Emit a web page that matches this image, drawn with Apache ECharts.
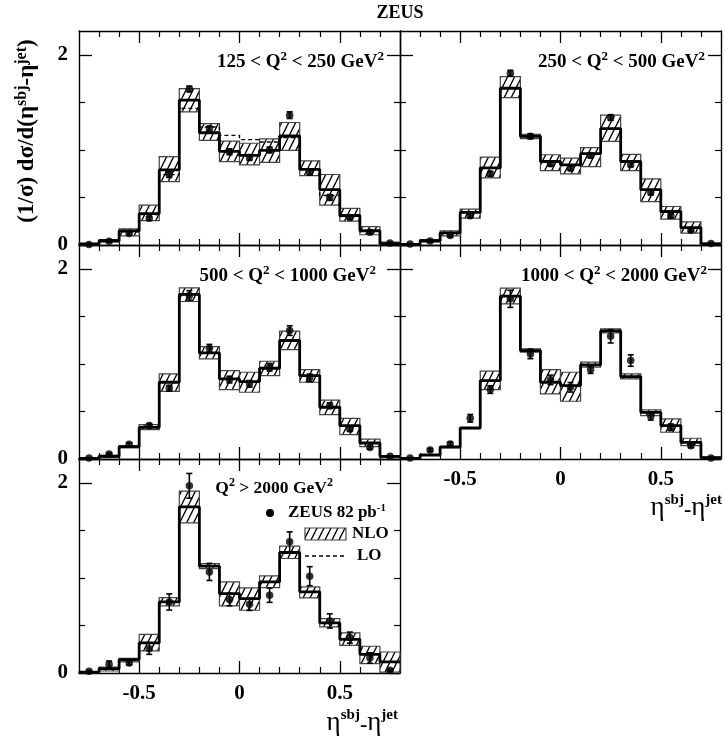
<!DOCTYPE html>
<html><head><meta charset="utf-8">
<script src="https://cdn.jsdelivr.net/npm/echarts@6/dist/echarts.min.js"></script>
<style>html,body{margin:0;padding:0;background:#fff}#c{width:725px;height:739px}</style>
</head><body><div id="c"></div>
<script>
// ---------- data ----------
const binEdges = [-0.8,-0.7,-0.6,-0.5,-0.4,-0.3,-0.2,-0.1,0,0.1,0.2,0.3,0.4,0.5,0.6,0.7,0.8];
const xMajorTicks = [-0.5, 0, 0.5];
const xMinorTicks = [-0.7,-0.6,-0.4,-0.3,-0.2,-0.1,0.1,0.2,0.3,0.4,0.6,0.7];
const yMajorTicks = [0, 2];
const yMinorTicks = [0.5, 1, 1.5];

const panelLabels = [
  '125 < Q{s|2} < 250 GeV{s|2}',
  '250 < Q{s|2} < 500 GeV{s|2}',
  '500 < Q{s|2} < 1000 GeV{s|2}',
  '1000 < Q{s|2} < 2000 GeV{s|2}',
  'Q{s|2} > 2000 GeV{s|2}'
];

// panel 1: 125 < Q2 < 250
const data1  = [0.005,0.04,0.12,0.28,0.74,1.64,1.22,0.98,0.92,1.0,1.365,0.765,0.50,0.29,0.135,0.02];
const err1   = [0.005,0.01,0.015,0.02,0.03,0.03,0.03,0.03,0.03,0.03,0.035,0.03,0.03,0.02,0.015,0.008];
const nloHi1 = [0.02,0.056,0.17,0.42,0.93,1.645,1.277,1.093,1.07,1.115,1.288,0.885,0.741,0.386,0.194,0.03];
const nloLo1 = [0.0,0.03,0.095,0.257,0.667,1.40,1.10,0.877,0.843,0.868,0.995,0.73,0.42,0.25,0.108,0.005];
const nlo1   = [0.01,0.045,0.148,0.33,0.79,1.524,1.18,0.984,0.942,0.995,1.146,0.795,0.582,0.31,0.15,0.014];
const lo1    = [0.01,0.045,0.14,0.32,0.74,1.436,1.24,1.153,1.108,1.083,1.129,0.80,0.52,0.30,0.145,0.014];

// panel 2: 250 < Q2 < 500
const data2  = [0.01,0.042,0.10,0.307,0.748,1.806,1.143,0.854,0.808,0.942,1.34,0.847,0.553,0.307,0.155,0.015];
const err2   = [0.005,0.01,0.015,0.02,0.025,0.03,0.025,0.025,0.025,0.025,0.03,0.025,0.025,0.02,0.015,0.005];
const nloHi2 = [0.01,0.056,0.148,0.377,0.924,1.77,1.164,0.949,0.913,1.023,1.365,0.952,0.695,0.405,0.243,0.02];
const nloLo2 = [0.0,0.03,0.095,0.282,0.706,1.55,1.118,0.783,0.748,0.825,1.09,0.783,0.455,0.272,0.124,0.005];
const nlo2   = [0.005,0.045,0.127,0.342,0.81,1.648,1.143,0.878,0.843,0.96,1.224,0.878,0.582,0.352,0.183,0.012];
const lo2    = [0.005,0.045,0.127,0.342,0.81,1.648,1.143,0.878,0.843,0.96,1.224,0.878,0.582,0.352,0.183,0.012];

// panel 3: 500 < Q2 < 1000
const data3  = [0.01,0.053,0.154,0.351,0.744,1.72,1.165,0.835,0.79,0.965,1.35,0.853,0.561,0.316,0.12,0.028];
const err3   = [0.005,0.01,0.015,0.02,0.03,0.05,0.04,0.035,0.035,0.04,0.05,0.04,0.03,0.025,0.015,0.008];
const nloHi3 = [0.01,0.042,0.14,0.361,0.895,1.80,1.182,0.93,0.912,1.028,1.344,0.94,0.618,0.428,0.21,0.035];
const nloLo3 = [0.0,0.02,0.116,0.309,0.712,1.656,1.053,0.73,0.702,0.877,1.151,0.807,0.467,0.256,0.13,0.02];
const nlo3   = [0.005,0.028,0.13,0.333,0.807,1.73,1.116,0.842,0.814,0.954,1.246,0.877,0.544,0.351,0.168,0.028];
const lo3    = [0.005,0.028,0.13,0.333,0.807,1.73,1.116,0.842,0.814,0.954,1.246,0.877,0.544,0.351,0.168,0.028];

// panel 4: 1000 < Q2 < 2000
const data4  = [0.01,0.095,0.158,0.428,0.73,1.684,1.105,0.832,0.754,0.94,1.29,1.035,0.449,0.333,0.14,0.01];
const err4   = [0.005,0.015,0.02,0.04,0.04,0.09,0.05,0.05,0.05,0.04,0.07,0.06,0.04,0.035,0.02,0.005];
const nloHi4 = [0.01,0.045,0.13,0.33,0.923,1.797,1.158,0.94,0.912,1.018,1.368,0.895,0.516,0.421,0.218,0.02];
const nloLo4 = [0.0,0.038,0.12,0.32,0.73,1.63,1.123,0.684,0.607,0.965,1.326,0.842,0.456,0.281,0.14,0.008];
const nlo4   = [0.005,0.042,0.126,0.326,0.825,1.712,1.14,0.807,0.772,0.99,1.347,0.867,0.491,0.351,0.175,0.014];
const lo4    = [0.005,0.042,0.126,0.326,0.825,1.712,1.14,0.807,0.772,0.99,1.347,0.867,0.491,0.351,0.175,0.014];

// panel 5: Q2 > 2000
const data5  = [0.018,0.091,0.105,0.256,0.747,1.968,1.063,0.772,0.723,0.818,1.379,1.018,0.547,0.372,0.158,0.028];
const err5   = [0.008,0.035,0.02,0.06,0.085,0.13,0.09,0.065,0.065,0.075,0.105,0.1,0.075,0.058,0.055,0.01];
const nloHi5 = [0.015,0.063,0.154,0.407,0.793,1.912,1.151,0.958,0.895,1.021,1.333,0.905,0.572,0.421,0.281,0.221];
const nloLo5 = [0.0,0.021,0.116,0.232,0.705,1.579,1.098,0.705,0.66,0.898,1.204,0.789,0.484,0.291,0.098,0.01];
const nlo5   = [0.01,0.046,0.14,0.316,0.747,1.747,1.123,0.835,0.782,0.958,1.267,0.853,0.526,0.354,0.196,0.116];
const lo5    = [0.01,0.046,0.14,0.316,0.747,1.747,1.123,0.835,0.782,0.958,1.267,0.853,0.526,0.354,0.196,0.116];

const panels = [
  {data:data1, err:err1, hi:nloHi1, lo:nloLo1, nlo:nlo1, lo_:lo1},
  {data:data2, err:err2, hi:nloHi2, lo:nloLo2, nlo:nlo2, lo_:lo2},
  {data:data3, err:err3, hi:nloHi3, lo:nloLo3, nlo:nlo3, lo_:lo3},
  {data:data4, err:err4, hi:nloHi4, lo:nloLo4, nlo:nlo4, lo_:lo4},
  {data:data5, err:err5, hi:nloHi5, lo:nloLo5, nlo:nlo5, lo_:lo5}
];

// ---------- layout ----------
const FONT = "'Liberation Serif','DejaVu Serif',serif";
const grids = [
  {left:79,  top:31,  width:321, height:214},
  {left:400, top:31,  width:321, height:214},
  {left:79,  top:245, width:321, height:214},
  {left:400, top:245, width:321, height:214},
  {left:79,  top:459, width:321, height:214}
];
const X_MIN = -0.8, X_MAX = 0.8, Y_MIN = 0, Y_MAX = 2.25;
const showXLabels = [false,false,false,true,true];
const showYLabels = [true,false,true,false,true];

// hatch pattern
function makeHatch(){
  const w = 7, h = 14, c = document.createElement('canvas');
  c.width = w; c.height = h;
  const ctx = c.getContext('2d');
  ctx.fillStyle = '#fff'; ctx.fillRect(0,0,w,h);
  ctx.strokeStyle = '#000'; ctx.lineWidth = 1.4;
  for (const dx of [-w, 0, w]) {
    ctx.beginPath(); ctx.moveTo(dx, h); ctx.lineTo(dx + w, 0); ctx.stroke();
  }
  return c;
}
const hatch = {type:'pattern', image: makeHatch(), repeat:'repeat'};

const binCenters = binEdges.slice(0,-1).map((e,i)=>(e+binEdges[i+1])/2);
function stepData(vals){
  const d = vals.map((v,i)=>[binEdges[i], v]);
  d.push([binEdges[binEdges.length-1], vals[vals.length-1]]);
  return d;
}

const axisLineStyle = {color:'#000', width:1.4};
const xAxes = [], yAxes = [], series = [];
grids.forEach((g, gi) => {
  const base = {type:'value', gridIndex:gi, min:X_MIN, max:X_MAX, splitLine:{show:false}};
  xAxes.push(Object.assign({}, base, {position:'bottom',
    axisLine:{show:true, onZero:false, lineStyle:axisLineStyle},
    axisTick:{show:true, inside:true, length:6, customValues:xMinorTicks, lineStyle:{color:'#000', width:1.2}},
    axisLabel:{show:false}}));
  xAxes.push(Object.assign({}, base, {position:'bottom',
    axisLine:{show:false, onZero:false},
    axisTick:{show:true, inside:true, length:12, customValues:xMajorTicks, lineStyle:{color:'#000', width:1.3}},
    axisLabel:{show:showXLabels[gi], customValues:xMajorTicks, margin:10, color:'#000',
      fontFamily:FONT, fontWeight:'bold', fontSize:21,
      formatter:(v)=> (Math.abs(v)<1e-9 ? '0' : String(v))}}));
  xAxes.push(Object.assign({}, base, {position:'top',
    axisLine:{show:true, onZero:false, lineStyle:axisLineStyle},
    axisTick:{show:true, inside:true, length:6, customValues:xMinorTicks, lineStyle:{color:'#000', width:1.2}},
    axisLabel:{show:false}}));
  xAxes.push(Object.assign({}, base, {position:'top',
    axisLine:{show:false, onZero:false},
    axisTick:{show:true, inside:true, length:12, customValues:xMajorTicks, lineStyle:{color:'#000', width:1.3}},
    axisLabel:{show:false}}));

  const ybase = {type:'value', gridIndex:gi, min:Y_MIN, max:Y_MAX, splitLine:{show:false}};
  yAxes.push(Object.assign({}, ybase, {position:'left',
    axisLine:{show:true, onZero:false, lineStyle:axisLineStyle},
    axisTick:{show:true, inside:true, length:6, customValues:yMinorTicks, lineStyle:{color:'#000', width:1.2}},
    axisLabel:{show:false}}));
  yAxes.push(Object.assign({}, ybase, {position:'left',
    axisLine:{show:false, onZero:false},
    axisTick:{show:true, inside:true, length:13, customValues:yMajorTicks, lineStyle:{color:'#000', width:1.3}},
    axisLabel:{show:showYLabels[gi], customValues:yMajorTicks, margin:11, color:'#000',
      fontFamily:FONT, fontWeight:'bold', fontSize:21}}));
  yAxes.push(Object.assign({}, ybase, {position:'right',
    axisLine:{show:true, onZero:false, lineStyle:axisLineStyle},
    axisTick:{show:true, inside:true, length:6, customValues:yMinorTicks, lineStyle:{color:'#000', width:1.2}},
    axisLabel:{show:false}}));
  yAxes.push(Object.assign({}, ybase, {position:'right',
    axisLine:{show:false, onZero:false},
    axisTick:{show:true, inside:true, length:13, customValues:yMajorTicks, lineStyle:{color:'#000', width:1.3}},
    axisLabel:{show:false}}));

  const P = panels[gi];
  const xi = gi*4, yi = gi*4;
  series.push({
    type:'custom', name:'NLO band', xAxisIndex:xi, yAxisIndex:yi, z:2, silent:true,
    data: P.lo.map((l,i)=>[binEdges[i], binEdges[i+1], l, P.hi[i]]),
    encode:{x:[0,1], y:[2,3]},
    renderItem:(params, api)=>{
      const a = api.coord([api.value(0), api.value(3)]);
      const b = api.coord([api.value(1), api.value(2)]);
      return {type:'rect', shape:{x:a[0], y:a[1], width:b[0]-a[0], height:Math.max(b[1]-a[1],0.5)},
        style:{fill:hatch, stroke:'#444', lineWidth:1.2}};
    }
  });
  series.push({
    type:'line', name:'LO', xAxisIndex:xi, yAxisIndex:yi, z:3, step:'end', symbol:'none', silent:true,
    data: stepData(P.lo_), lineStyle:{color:'#000', width:1.4, type:[4,3]}
  });
  series.push({
    type:'line', name:'NLO', xAxisIndex:xi, yAxisIndex:yi, z:4, step:'end', symbol:'none', silent:true,
    data: stepData(P.nlo), lineStyle:{color:'#000', width:2.8}
  });
  series.push({
    type:'custom', name:'errors', xAxisIndex:xi, yAxisIndex:yi, z:5, silent:true,
    data: P.data.map((v,i)=>[binCenters[i], v, P.err[i]]),
    encode:{x:0, y:1},
    renderItem:(params, api)=>{
      const x = api.value(0), y = api.value(1), e = api.value(2);
      const t = api.coord([x, y+e]), b = api.coord([x, Math.max(y-e,0)]);
      const cw = 3, st = {stroke:'#000', lineWidth:1.6};
      return {type:'group', children:[
        {type:'line', shape:{x1:t[0], y1:t[1], x2:b[0], y2:b[1]}, style:st},
        {type:'line', shape:{x1:t[0]-cw, y1:t[1], x2:t[0]+cw, y2:t[1]}, style:st},
        {type:'line', shape:{x1:b[0]-cw, y1:b[1], x2:b[0]+cw, y2:b[1]}, style:st}
      ]};
    }
  });
  series.push({
    type:'scatter', name:'ZEUS 82 pb-1', xAxisIndex:xi, yAxisIndex:yi, z:6, silent:true,
    symbol:'circle', symbolSize:7.5, itemStyle:{color:'#000'},
    data: P.data.map((v,i)=>[binCenters[i], v])
  });
});

// ---------- text graphics ----------
const supRich = (size)=>({
  s:{fontSize:size, fontWeight:'bold', fontFamily:FONT, verticalAlign:'top', lineHeight:size, fill:'#000'}
});
const labelPos = [[384,62],[705,62],[376,276],[707,276],[333,488]];
const labelSize = [19,19,19,19,17.5];
const graphics = [];
labelPos.forEach((p,i)=>{
  graphics.push({type:'text', x:p[0], y:p[1], silent:true, style:{
    text:panelLabels[i], align:'right', verticalAlign:'middle',
    font:"bold " + labelSize[i] + "px " + FONT, fill:'#000', lineHeight:23, rich:supRich(Math.round(labelSize[i]*0.68))}});
});
graphics.push({type:'text', x:400, y:13, style:{text:'ZEUS', align:'center', verticalAlign:'middle',
  font:"bold 18px " + FONT, fill:'#000'}});
// y axis title
graphics.push({type:'text', x:27, y:131, rotation:Math.PI/2, style:{
  text:'(1/σ) dσ/d(η{s|sbj}-η{s|jet})', align:'center', verticalAlign:'middle',
  font:"bold 23px " + FONT, fill:'#000', lineHeight:26, rich:supRich(16)}});
// x axis titles
function xTitle(xr, yc){
  return {type:'text', x:xr, y:yc, style:{
    text:'{e|η}{s|sbj}{m|-}{e|η}{s|jet}', align:'right', verticalAlign:'middle', fill:'#000', lineHeight:28,
    rich:{
      e:{fontFamily:FONT, fontSize:27, fontWeight:'normal', lineHeight:28, verticalAlign:'bottom'},
      m:{fontFamily:FONT, fontSize:22, fontWeight:'bold', lineHeight:28, verticalAlign:'bottom'},
      s:{fontFamily:FONT, fontSize:15, fontWeight:'bold', lineHeight:15, verticalAlign:'top'}
    }}};
}
graphics.push(xTitle(398, 722));
graphics.push(xTitle(722, 507));
// legend inside panel 5
graphics.push({type:'circle', shape:{cx:270, cy:513, r:4}, style:{fill:'#000'}});
graphics.push({type:'text', x:288, y:513, style:{text:'ZEUS 82 pb{s|-1}', align:'left', verticalAlign:'middle',
  font:"bold 17px " + FONT, fill:'#000', lineHeight:20, rich:supRich(11)}});
graphics.push({type:'rect', shape:{x:305, y:528, width:41, height:12}, style:{fill:hatch, stroke:'#444', lineWidth:1.2}});
graphics.push({type:'text', x:352, y:534, style:{text:'NLO', align:'left', verticalAlign:'middle',
  font:"bold 17px " + FONT, fill:'#000'}});
graphics.push({type:'line', shape:{x1:305, y1:556, x2:346, y2:556}, style:{stroke:'#000', lineWidth:1.4, lineDash:[4,3]}});
graphics.push({type:'text', x:357, y:556, style:{text:'LO', align:'left', verticalAlign:'middle',
  font:"bold 17px " + FONT, fill:'#000'}});

const chart = echarts.init(document.getElementById('c'), null, {renderer:'canvas'});
chart.setOption({
  animation:false,
  backgroundColor:'#fff',
  grid: grids,
  xAxis: xAxes,
  yAxis: yAxes,
  series: series,
  graphic: graphics
});
</script>
</body></html>
